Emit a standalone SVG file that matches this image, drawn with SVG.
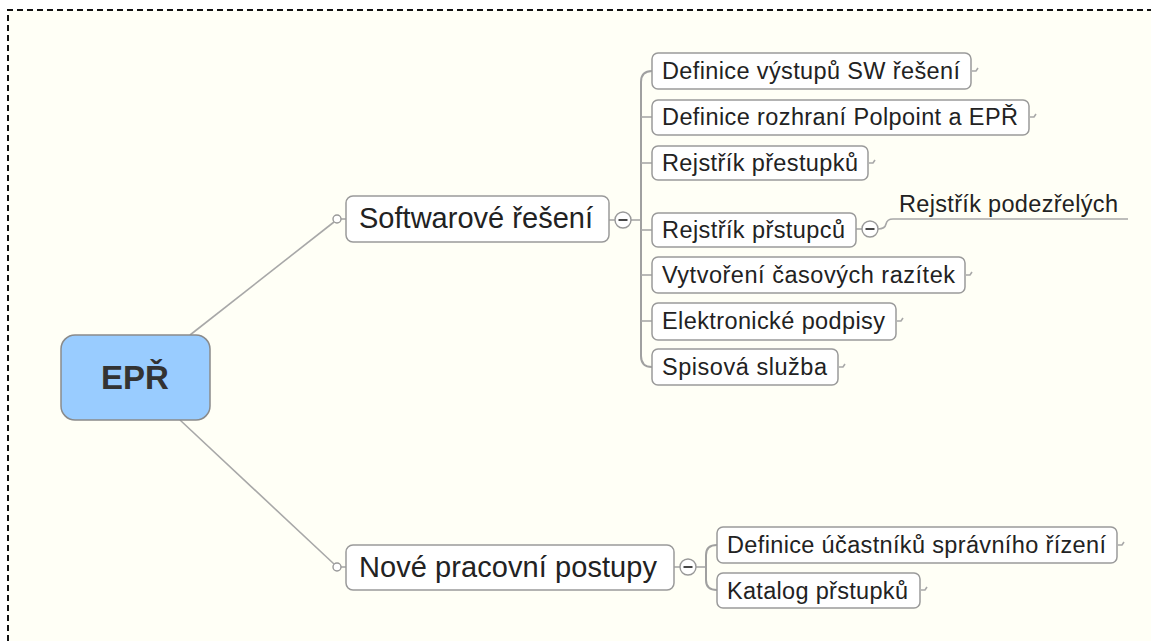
<svg xmlns="http://www.w3.org/2000/svg" width="1151" height="641" viewBox="0 0 1151 641">
<defs>
<style>
.bg{fill:#fffff6}
.border{fill:none;stroke:#111;stroke-width:2;stroke-dasharray:6 4}
.box{fill:#ffffff;stroke:#9a9a9a;stroke-width:1.5}
.root{fill:#99ccff;stroke:#8a8a8a;stroke-width:1.5}
.con{fill:none;stroke:#a8a8a8;stroke-width:1.6}
.con2{fill:none;stroke:#a0a0a0;stroke-width:2}
.dot{fill:#ffffff;stroke:#999;stroke-width:1.4}
.tog{fill:#ffffff;stroke:#999;stroke-width:1.4}
.minus{stroke:#333;stroke-width:1.8}
.t{font-family:"Liberation Sans",Arial,sans-serif;fill:#222}
.tm{font-size:29px}
.tc{font-size:23.5px}
.tr{font-size:33px;font-weight:bold;fill:#333}
</style>
</defs>
<rect x="0" y="0" width="1151" height="641" fill="#ffffff"/>
<rect class="bg" x="8" y="10" width="1143" height="631"/>
<path class="border" d="M8,641 L8,10 L1151,10"/>

<g id="connectors">
<line class="con" x1="190" y1="335" x2="334" y2="222"/>
<line class="con" x1="180" y1="420" x2="334" y2="564"/>
<line class="con" x1="341" y1="219" x2="346" y2="219"/>
<line class="con" x1="341" y1="567" x2="346" y2="567"/>
<line class="con" x1="609" y1="220" x2="615" y2="220"/>
<line class="con" x1="631" y1="220" x2="641" y2="220"/>
<path class="con2" d="M652,71 Q641,71 641,82 L641,356 Q641,367 652,367"/>
<path class="con" d="M641,117 L652,117"/>
<path class="con" d="M641,163 L652,163"/>
<path class="con" d="M641,230 L652,230"/>
<path class="con" d="M641,275 L652,275"/>
<path class="con" d="M641,321 L652,321"/>
<line class="con" x1="856" y1="229" x2="862" y2="229"/>
<path class="con" d="M878,229 Q885,229 886,224 Q887,219 893,219 L1128,219"/>
<line class="con" x1="674" y1="567" x2="680" y2="567"/>
<line class="con" x1="696" y1="567" x2="706" y2="567"/>
<path class="con2" d="M717,545 Q706,545 706,555 L706,580 Q706,590 717,590"/>
<path class="con" d="M972,71 L976,71 L978,68"/>
<path class="con" d="M1030,117 L1034,117 L1036,114"/>
<path class="con" d="M869,163 L873,163 L875,160"/>
<path class="con" d="M966,275 L970,275 L972,272"/>
<path class="con" d="M897,321 L901,321 L903,318"/>
<path class="con" d="M839,367 L843,367 L845,364"/>
<path class="con" d="M1118,545 L1122,545 L1124,542"/>
<path class="con" d="M921,590 L925,590 L927,587"/>
</g>

<g id="root">
<rect class="root" x="61" y="335" width="149" height="85" rx="14"/>
<text class="t tr" x="135" y="389" text-anchor="middle">EPŘ</text>
</g>

<g id="softwarove">
<circle class="dot" cx="337" cy="219" r="4"/>
<rect class="box" x="346" y="196" width="263" height="46" rx="7"/>
<text class="t tm" x="359" y="228" textLength="234" lengthAdjust="spacing">Softwarové řešení</text>
<circle class="tog" cx="623" cy="220" r="8"/>
<line class="minus" x1="618.5" y1="220" x2="627.5" y2="220"/>
</g>

<g id="definice-vystupu">
<rect class="box" x="652" y="53" width="319" height="36" rx="6"/>
<text class="t tc" x="662" y="79" textLength="298" lengthAdjust="spacing">Definice výstupů SW řešení</text>
</g>
<g id="definice-rozhrani">
<rect class="box" x="652" y="100" width="377" height="35" rx="6"/>
<text class="t tc" x="662" y="125" textLength="356" lengthAdjust="spacing">Definice rozhraní Polpoint a EPŘ</text>
</g>
<g id="rejstrik-prestupku">
<rect class="box" x="652" y="146" width="216" height="34" rx="6"/>
<text class="t tc" x="662" y="171" textLength="196" lengthAdjust="spacing">Rejstřík přestupků</text>
</g>
<g id="rejstrik-prstupcu">
<rect class="box" x="652" y="213" width="204" height="34" rx="6"/>
<text class="t tc" x="662" y="238" textLength="183" lengthAdjust="spacing">Rejstřík přstupců</text>
<circle class="tog" cx="870" cy="229" r="8"/>
<line class="minus" x1="865.5" y1="229" x2="874.5" y2="229"/>
</g>
<g id="rejstrik-podezrelych">
<text class="t tc" x="899" y="212" textLength="219" lengthAdjust="spacing">Rejstřík podezřelých</text>
</g>
<g id="vytvoreni">
<rect class="box" x="652" y="257" width="313" height="36" rx="6"/>
<text class="t tc" x="662" y="283" textLength="293" lengthAdjust="spacing">Vytvoření časových razítek</text>
</g>
<g id="elektronicke">
<rect class="box" x="652" y="303" width="244" height="37" rx="6"/>
<text class="t tc" x="662" y="329" textLength="223" lengthAdjust="spacing">Elektronické podpisy</text>
</g>
<g id="spisova">
<rect class="box" x="652" y="349" width="186" height="36" rx="6"/>
<text class="t tc" x="662" y="375" textLength="165" lengthAdjust="spacing">Spisová služba</text>
</g>

<g id="nove">
<circle class="dot" cx="337" cy="567" r="4"/>
<rect class="box" x="346" y="545" width="328" height="45" rx="7"/>
<text class="t tm" x="359" y="577" textLength="298" lengthAdjust="spacing">Nové pracovní postupy</text>
<circle class="tog" cx="688" cy="567" r="8"/>
<line class="minus" x1="683.5" y1="567" x2="692.5" y2="567"/>
</g>
<g id="definice-ucastniku">
<rect class="box" x="717" y="527" width="400" height="36" rx="6"/>
<text class="t tc" x="727" y="553" textLength="379" lengthAdjust="spacing">Definice účastníků správního řízení</text>
</g>
<g id="katalog">
<rect class="box" x="717" y="573" width="203" height="35" rx="6"/>
<text class="t tc" x="727" y="599" textLength="181" lengthAdjust="spacing">Katalog přstupků</text>
</g>
</svg>
